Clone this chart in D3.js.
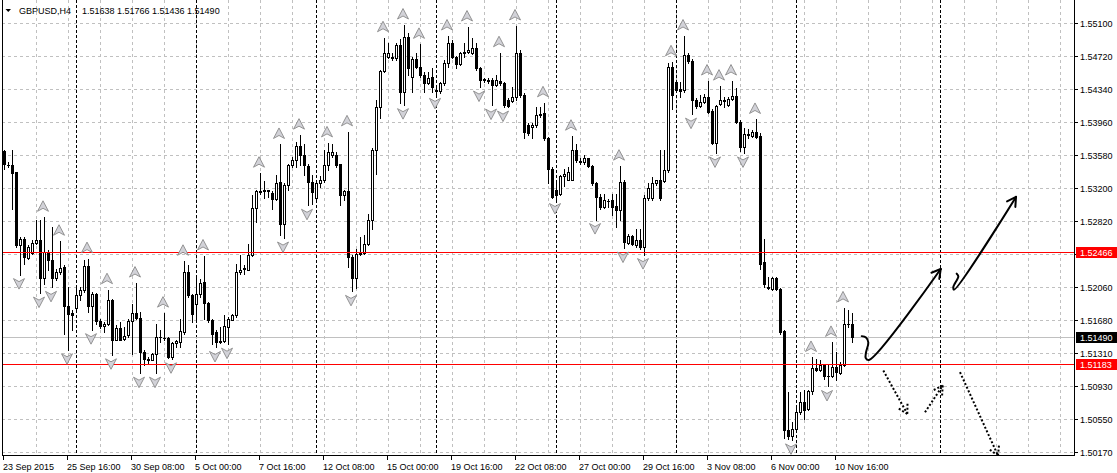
<!DOCTYPE html>
<html><head><meta charset="utf-8">
<script src="https://cdn.jsdelivr.net/npm/d3@7"></script>
<style>
html,body{margin:0;padding:0;background:#fff;}
svg{display:block;}
text{font-family:"Liberation Sans",Arial,sans-serif;font-size:9px;}
</style>
</head><body>
<svg id="chart" width="1117" height="473"></svg>
<script>
const symbolTitle = "GBPUSD,H4";
const ohlcTitle = "1.51638 1.51766 1.51436 1.51490";

const open = [1.53627,1.53470,1.53462,1.53385,1.52543,1.52612,1.52397,1.52458,1.52569,1.52600,
1.52171,1.52470,1.52378,1.52171,1.52236,1.52294,1.51842,1.51765,1.51826,1.51968,
1.52033,1.52301,1.51842,1.51980,1.51669,1.51616,1.51643,1.51918,1.51459,1.51597,
1.51470,1.51509,1.51673,1.51765,1.51712,1.51317,1.51237,1.51229,1.51298,1.51489,
1.51482,1.51482,1.51260,1.51420,1.51432,1.51547,1.52236,1.51968,1.51872,1.51980,
1.52121,1.51880,1.51689,1.51547,1.51443,1.51443,1.51604,1.51689,1.51738,1.52236,
1.52271,1.52263,1.52428,1.52975,1.53167,1.53170,1.53175,1.53148,1.53071,1.53271,
1.52792,1.53232,1.53462,1.53527,1.53680,1.53577,1.53454,1.53271,1.53080,1.53252,
1.53297,1.53462,1.53577,1.53577,1.53474,1.53117,1.53167,1.52409,1.52168,1.52447,
1.52455,1.52554,1.52830,1.53642,1.54133,1.54543,1.54708,1.54708,1.54696,1.54842,
1.54306,1.54938,1.54478,1.54677,1.54593,1.54497,1.54409,1.54470,1.54325,1.54317,
1.54402,1.54640,1.54861,1.54708,1.54624,1.54746,1.54765,1.54754,1.54804,1.54574,
1.54447,1.54440,1.54440,1.54382,1.54432,1.54402,1.54210,1.54202,1.54240,1.54754,
1.54267,1.53923,1.53896,1.53923,1.54050,1.54057,1.53769,1.53424,1.53175,1.53137,
1.53336,1.53297,1.53297,1.53635,1.53508,1.53501,1.53539,1.53451,1.53260,1.53098,
1.52983,1.53052,1.53060,1.52991,1.52953,1.53271,1.52569,1.52646,1.52543,1.52608,
1.52524,1.53080,1.53080,1.53252,1.53290,1.53282,1.53406,1.54585,1.54420,1.54332,
1.54325,1.54727,1.54662,1.54210,1.54141,1.54191,1.54240,1.54087,1.53720,1.54164,
1.54198,1.54152,1.54221,1.54260,1.53961,1.53674,1.53815,1.53796,1.53846,1.53795,
1.52351,1.52064,1.52045,1.52171,1.52045,1.51559,1.50417,1.50348,1.50436,1.50628,
1.50743,1.50666,1.50865,1.51134,1.51114,1.51164,1.51042,1.51042,1.51145,1.51076,
1.51164,1.51635,1.51638];
const high = [1.53642,1.53500,1.53634,1.53385,1.52638,1.52638,1.52543,1.52600,1.52838,1.52830,
1.52864,1.52485,1.52753,1.52275,1.52589,1.52313,1.52064,1.51796,1.52083,1.52064,
1.52370,1.52390,1.52006,1.51995,1.51700,1.51662,1.52033,1.51930,1.51623,1.51662,
1.51604,1.51700,1.51865,1.52109,1.51777,1.51336,1.51260,1.51306,1.51643,1.51566,
1.51764,1.51489,1.51432,1.51451,1.51700,1.52359,1.52313,1.51987,1.52179,1.52160,
1.52420,1.51892,1.51700,1.51566,1.51604,1.51738,1.51719,1.51757,1.52332,1.52428,
1.52313,1.52562,1.53117,1.53182,1.53370,1.53282,1.53183,1.53167,1.53347,1.53700,
1.53252,1.53481,1.53558,1.53730,1.53807,1.53711,1.53481,1.53347,1.53290,1.53336,
1.53635,1.53718,1.53700,1.53615,1.53481,1.53183,1.53845,1.52428,1.52505,1.52639,
1.52658,1.52907,1.53654,1.54210,1.54555,1.54925,1.54861,1.54746,1.54861,1.54907,
1.55071,1.54976,1.54708,1.54746,1.54849,1.54536,1.54536,1.54574,1.54382,1.54420,
1.54669,1.54945,1.54899,1.54715,1.54765,1.54861,1.55048,1.54918,1.54861,1.54593,
1.54459,1.54459,1.54459,1.54497,1.54753,1.54420,1.54229,1.54363,1.55060,1.54784,
1.54287,1.53942,1.53942,1.54133,1.54133,1.54178,1.53788,1.53443,1.53252,1.53347,
1.53424,1.53443,1.53795,1.53711,1.53550,1.53577,1.53550,1.53462,1.53271,1.53137,
1.53137,1.53079,1.53137,1.53137,1.53451,1.53290,1.52677,1.52658,1.52734,1.52734,
1.53117,1.53260,1.53328,1.53297,1.53635,1.53635,1.54639,1.54649,1.54439,1.54420,
1.54945,1.54746,1.54677,1.54229,1.54267,1.54279,1.54428,1.54103,1.54152,1.54370,
1.54248,1.54240,1.54428,1.54344,1.53980,1.53884,1.53883,1.53865,1.53987,1.53826,
1.52620,1.52179,1.52179,1.52179,1.52057,1.51566,1.50858,1.50513,1.50685,1.50858,
1.50877,1.50877,1.51255,1.51241,1.51222,1.51176,1.51164,1.51428,1.51317,1.51203,
1.51824,1.51796,1.51766];
const low = [1.53424,1.53443,1.52964,1.52523,1.52206,1.52332,1.52389,1.52447,1.52562,1.51994,
1.52102,1.52255,1.52060,1.52140,1.52217,1.51520,1.51344,1.51566,1.51796,1.51911,
1.52006,1.51777,1.51574,1.51643,1.51597,1.51547,1.51623,1.51286,1.51451,1.51451,
1.51459,1.51489,1.51298,1.51700,1.51075,1.51164,1.51183,1.51221,1.51075,1.51432,
1.51451,1.51252,1.51240,1.51374,1.51374,1.51528,1.51949,1.51662,1.51700,1.51949,
1.51700,1.51662,1.51413,1.51370,1.51425,1.51432,1.51408,1.51681,1.51719,1.52217,
1.52217,1.52255,1.52416,1.52811,1.53136,1.53091,1.53098,1.52964,1.53060,1.52658,
1.52626,1.53175,1.53443,1.53443,1.53462,1.53347,1.53002,1.53022,1.53060,1.53213,
1.53271,1.53405,1.53558,1.53443,1.53003,1.53060,1.52294,1.52014,1.52050,1.52428,
1.52447,1.52543,1.52734,1.53366,1.53999,1.54535,1.54689,1.54670,1.54670,1.54180,
1.54157,1.54497,1.54300,1.54574,1.54478,1.54306,1.54394,1.54306,1.54275,1.54287,
1.54382,1.54593,1.54689,1.54574,1.54612,1.54708,1.54746,1.54738,1.54555,1.54359,
1.54420,1.54410,1.54152,1.54371,1.54382,1.54129,1.54133,1.54191,1.54210,1.54248,
1.53769,1.53808,1.53769,1.53904,1.54018,1.53750,1.53252,1.53090,1.53068,1.53117,
1.53221,1.53290,1.53290,1.53501,1.53481,1.53481,1.53443,1.53232,1.52838,1.52964,
1.52976,1.52983,1.52888,1.52754,1.52830,1.52511,1.52554,1.52543,1.52524,1.52505,
1.52436,1.53068,1.53060,1.53232,1.53068,1.53271,1.53386,1.54103,1.54306,1.54248,
1.54306,1.54631,1.54048,1.54120,1.54126,1.54172,1.54057,1.53704,1.53603,1.54152,
1.54133,1.54141,1.54210,1.53942,1.53620,1.53603,1.53769,1.53788,1.53770,1.52275,
1.52064,1.52045,1.52034,1.52026,1.51528,1.50330,1.50320,1.50309,1.50417,1.50609,
1.50552,1.50647,1.50839,1.51099,1.51099,1.51011,1.50922,1.51030,1.50992,1.51061,
1.51153,1.51605,1.51436];
const close = [1.53481,1.53468,1.53374,1.52543,1.52612,1.52409,1.52523,1.52573,1.52600,1.52171,
1.52466,1.52378,1.52171,1.52236,1.52286,1.51842,1.51757,1.51738,1.51968,1.52026,
1.52301,1.51842,1.51980,1.51669,1.51612,1.51643,1.51918,1.51459,1.51597,1.51459,
1.51501,1.51673,1.51765,1.51712,1.51317,1.51240,1.51229,1.51298,1.51493,1.51486,
1.51478,1.51260,1.51420,1.51443,1.51555,1.52236,1.51968,1.51757,1.51980,1.52110,
1.51880,1.51689,1.51528,1.51432,1.51435,1.51612,1.51692,1.51738,1.52236,1.52263,
1.52278,1.52428,1.52975,1.53167,1.53160,1.53178,1.53167,1.53071,1.53252,1.52792,
1.53232,1.53462,1.53527,1.53680,1.53577,1.53462,1.53271,1.53156,1.53252,1.53297,
1.53462,1.53615,1.53615,1.53462,1.53117,1.53167,1.52409,1.52168,1.52447,1.52455,
1.52554,1.52830,1.53642,1.54133,1.54543,1.54746,1.54754,1.54689,1.54842,1.54306,
1.54938,1.54574,1.54677,1.54593,1.54497,1.54409,1.54459,1.54355,1.54317,1.54409,
1.54640,1.54861,1.54708,1.54624,1.54746,1.54765,1.54784,1.54804,1.54574,1.54440,
1.54440,1.54432,1.54382,1.54440,1.54402,1.54152,1.54141,1.54240,1.54754,1.54267,
1.53846,1.53835,1.53923,1.54038,1.54038,1.53769,1.53424,1.53098,1.53117,1.53336,
1.53366,1.53386,1.53635,1.53520,1.53501,1.53539,1.53451,1.53260,1.53098,1.52983,
1.53060,1.53049,1.52983,1.52953,1.53271,1.52580,1.52646,1.52554,1.52608,1.52524,
1.53080,1.53206,1.53252,1.53290,1.53091,1.53405,1.54585,1.54267,1.54325,1.54317,
1.54727,1.54662,1.54210,1.54145,1.54191,1.54240,1.54076,1.53720,1.54141,1.54210,
1.54210,1.54221,1.54260,1.53961,1.53674,1.53820,1.53810,1.53846,1.53789,1.52332,
1.52095,1.52057,1.52171,1.52045,1.51547,1.50417,1.50348,1.50436,1.50628,1.50743,
1.50655,1.50865,1.51134,1.51114,1.51164,1.51042,1.51038,1.51145,1.51088,1.51164,
1.51643,1.51643,1.51490];

const timeLabels = ["23 Sep 2015","25 Sep 16:00","30 Sep 08:00","5 Oct 00:00","7 Oct 16:00","12 Oct 08:00","15 Oct 00:00","19 Oct 16:00","22 Oct 08:00","27 Oct 00:00","29 Oct 16:00","3 Nov 08:00","6 Nov 00:00","10 Nov 16:00"];
const timeLabelBars = [0,16,32,48,64,80,96,112,128,144,160,176,192,208];
const priceTicks = [1.55100,1.54720,1.54340,1.53960,1.53580,1.53200,1.52820,1.52440,1.52060,1.51680,1.51310,1.50930,1.50550,1.50170];
const separatorBars = [18,48,78,108,138,168,198,234];
const gridBarStep = 8;
const lastGridBar = 264;

const upFractals = [[10,1.52864],[14,1.52589],[21,1.52390],[26,1.52033],[33,1.52109],[40,1.51764],[45,1.52359],[50,1.52420],[64,1.53370],[69,1.53700],[74,1.53807],[81,1.53718],[86,1.53845],[95,1.54925],[100,1.55071],[104,1.54849],[111,1.54945],[116,1.55048],[124,1.54753],[128,1.55060],[135,1.54178],[142,1.53795],[154,1.53451],[167,1.54649],[170,1.54945],[176,1.54428],[179,1.54370],[182,1.54428],[188,1.53987],[202,1.51255],[207,1.51428],[210,1.51824]];
const downFractals = [[4,1.52206],[9,1.51994],[12,1.52060],[16,1.51344],[22,1.51574],[27,1.51286],[34,1.51075],[38,1.51075],[42,1.51240],[53,1.51370],[56,1.51408],[70,1.52626],[76,1.53002],[87,1.52014],[100,1.54157],[108,1.54275],[119,1.54359],[122,1.54152],[125,1.54129],[138,1.53068],[148,1.52838],[155,1.52511],[160,1.52436],[172,1.54048],[178,1.53603],[185,1.53603],[197,1.50309],[206,1.50922]];

const redLevels = [1.52466, 1.51183];
const bidPrice = 1.51490;

// hand-drawn forecast arrows: [bar index, price]
const solidArrow1 = [[214.43,1.51500],[215.5,1.51485],[216.08,1.51427],[215.5,1.51312],[215.43,1.51249],[216.25,1.51226],[234.18,1.52270]];
const solidArrow2 = [[238.18,1.52217],[238.58,1.52186],[237.33,1.52063],[237.5,1.52033],[253.0,1.53098]];
const dottedArrow1 = [[219.83,1.51106],[225.83,1.50608]];
const dottedArrow2 = [[230.25,1.50626],[234.68,1.50933]];
const dottedArrow3 = [[239.0,1.51086],[248.5,1.50129]];

const svg = d3.select("#chart");
const W = 1117, H = 473;
const plotL = 2, plotR = 1074, plotT = 0, plotB = 455;

const x = d3.scaleLinear().domain([0, 1]).range([4, 8]);
const y = d3.scaleLinear().domain([1.50170, 1.55100]).range([452, 22.5]);
const px = v => Math.round(v) + 0.5;

svg.append("rect").attr("width", W).attr("height", H).attr("fill", "#fff");

svg.append("defs").append("clipPath").attr("id", "plotClip")
  .append("rect").attr("x", plotL + 1).attr("y", plotT).attr("width", plotR - plotL - 1).attr("height", plotB - plotT);

const plot = svg.append("g").attr("clip-path", "url(#plotClip)");

// grid horizontal
plot.append("g").selectAll("line").data(priceTicks).join("line")
  .attr("x1", plotL).attr("x2", plotR)
  .attr("y1", d => px(y(d))).attr("y2", d => px(y(d)))
  .attr("stroke", "#c0c0c0").attr("stroke-dasharray", "3,3");

// grid vertical
const gridBars = d3.range(gridBarStep, lastGridBar + 1, gridBarStep);
plot.append("g").selectAll("line").data(gridBars).join("line")
  .attr("x1", d => px(x(d))).attr("x2", d => px(x(d)))
  .attr("y1", plotT).attr("y2", plotB)
  .attr("stroke", "#c0c0c0").attr("stroke-dasharray", "3,3");

// period separators
plot.append("g").selectAll("line").data(separatorBars).join("line")
  .attr("x1", d => px(x(d))).attr("x2", d => px(x(d)))
  .attr("y1", plotT).attr("y2", plotB)
  .attr("stroke", "#000").attr("stroke-dasharray", "3,2");

// bid line
plot.append("line").attr("x1", plotL).attr("x2", plotR)
  .attr("y1", px(y(bidPrice))).attr("y2", px(y(bidPrice)))
  .attr("stroke", "#c0c0c0");

// candles
const bars = d3.range(open.length).map(i => ({i, o: open[i], h: high[i], l: low[i], c: close[i]}));
const cg = plot.append("g");
bars.forEach(b => {
  const cx = px(x(b.i));
  cg.append("line").attr("x1", cx).attr("x2", cx)
    .attr("y1", Math.round(y(b.h))).attr("y2", Math.round(y(b.l)) + 1)
    .attr("stroke", "#000");
  const top = Math.round(y(Math.max(b.o, b.c)));
  const bot = Math.round(y(Math.min(b.o, b.c)));
  if (bot - top < 1) {
    cg.append("line").attr("x1", cx - 1.5).attr("x2", cx + 1.5)
      .attr("y1", top + 0.5).attr("y2", top + 0.5).attr("stroke", "#000");
  } else if (b.c > b.o) {
    cg.append("rect").attr("x", cx - 1).attr("y", top + 0.5)
      .attr("width", 2).attr("height", bot - top)
      .attr("fill", "#fff").attr("stroke", "#000");
  } else {
    cg.append("rect").attr("x", cx - 1.5).attr("y", top)
      .attr("width", 3).attr("height", bot - top + 1)
      .attr("fill", "#000");
  }
});

// red horizontal levels (drawn over the candles) as crisp 1px bands
plot.append("g").selectAll("rect").data(redLevels).join("rect")
  .attr("x", plotL).attr("width", plotR - plotL)
  .attr("y", d => Math.round(y(d))).attr("height", 1)
  .attr("fill", "#ff0000").attr("shape-rendering", "crispEdges");

// fractal arrows
const fg = plot.append("g");
const upPath = "M0,-5.5 L5.5,5 L0,2 L-5.5,5 Z";
const dnPath = "M0,5.5 L5.5,-5 L0,-2 L-5.5,-5 Z";
fg.selectAll("path.up").data(upFractals).join("path").attr("class", "up")
  .attr("d", upPath)
  .attr("transform", d => `translate(${x(d[0]) - 1},${y(d[1]) - 11})`)
  .attr("fill", "#d2d2d8").attr("stroke", "#8a8a8a").attr("stroke-width", 0.9);
fg.selectAll("path.dn").data(downFractals).join("path").attr("class", "dn")
  .attr("d", dnPath)
  .attr("transform", d => `translate(${x(d[0]) - 1},${y(d[1]) + 9})`)
  .attr("fill", "#d2d2d8").attr("stroke", "#8a8a8a").attr("stroke-width", 0.9);

// forecast arrows
const ag = plot.append("g");
const lineGen = d3.line().x(d => x(d[0])).y(d => y(d[1])).curve(d3.curveCatmullRom.alpha(0.5));
function drawArrow(pts, dashed) {
  const path = ag.append("path").attr("d", lineGen(pts))
    .attr("fill", "none").attr("stroke", "#000").attr("stroke-width", 2)
    .attr("stroke-linecap", dashed ? "butt" : "round");
  if (dashed) path.attr("stroke-dasharray", "2,2");
  const a = pts[pts.length - 2], b = pts[pts.length - 1];
  const tx = x(b[0]), ty = y(b[1]);
  const ang = Math.atan2(y(a[1]) - ty, x(a[0]) - tx);
  const len = 10, sp = Math.PI / 6;
  [ang - sp, ang + sp].forEach(t => {
    const l = ag.append("line").attr("x1", tx).attr("y1", ty)
      .attr("x2", tx + len * Math.cos(t)).attr("y2", ty + len * Math.sin(t))
      .attr("stroke", "#000").attr("stroke-width", 2).attr("stroke-linecap", dashed ? "butt" : "round");
    if (dashed) l.attr("stroke-dasharray", "2,2");
  });
}
drawArrow(solidArrow1, false);
drawArrow(solidArrow2, false);
drawArrow(dottedArrow1, true);
drawArrow(dottedArrow2, true);
drawArrow(dottedArrow3, true);

// frame
svg.append("line").attr("x1", plotL + 0.5).attr("x2", plotL + 0.5).attr("y1", plotT).attr("y2", plotB + 0.5).attr("stroke", "#000");
svg.append("line").attr("x1", plotR + 0.5).attr("x2", plotR + 0.5).attr("y1", plotT).attr("y2", plotB + 0.5).attr("stroke", "#000");
svg.append("line").attr("x1", plotL).attr("x2", plotR + 1).attr("y1", plotB + 0.5).attr("y2", plotB + 0.5).attr("stroke", "#000");

// right price axis
const ra = svg.append("g");
priceTicks.forEach(p => {
  const yy = px(y(p));
  ra.append("line").attr("x1", plotR + 1).attr("x2", plotR + 4).attr("y1", yy).attr("y2", yy).attr("stroke", "#000");
  ra.append("text").attr("x", 1080).attr("y", yy + 3.5).attr("fill", "#000").text(p.toFixed(5));
});
function priceBox(p, fill) {
  const yy = Math.round(y(p));
  ra.append("rect").attr("x", 1076).attr("y", yy - 5).attr("width", 41).attr("height", 11).attr("fill", fill);
  ra.append("text").attr("x", 1080).attr("y", yy + 4).attr("fill", "#fff").text(p.toFixed(5));
}
redLevels.forEach(p => priceBox(p, "#ff0000"));
priceBox(bidPrice, "#000");

// bottom time axis
const ba = svg.append("g");
timeLabelBars.forEach((b, k) => {
  const xx = px(x(b)) - 1;
  ba.append("line").attr("x1", xx).attr("x2", xx).attr("y1", plotB).attr("y2", plotB + 5).attr("stroke", "#000");
  ba.append("text").attr("x", xx - 0.5).attr("y", 469.5).attr("fill", "#000").text(timeLabels[k]);
});

// title
svg.append("path").attr("d", "M5.5,9 L11,9 L8.25,12 Z").attr("fill", "#000");
svg.append("text").attr("x", 19).attr("y", 14).attr("fill", "#000").text(symbolTitle);
svg.append("text").attr("x", 82).attr("y", 14).attr("fill", "#000").text(ohlcTitle);
</script>
</body></html>
